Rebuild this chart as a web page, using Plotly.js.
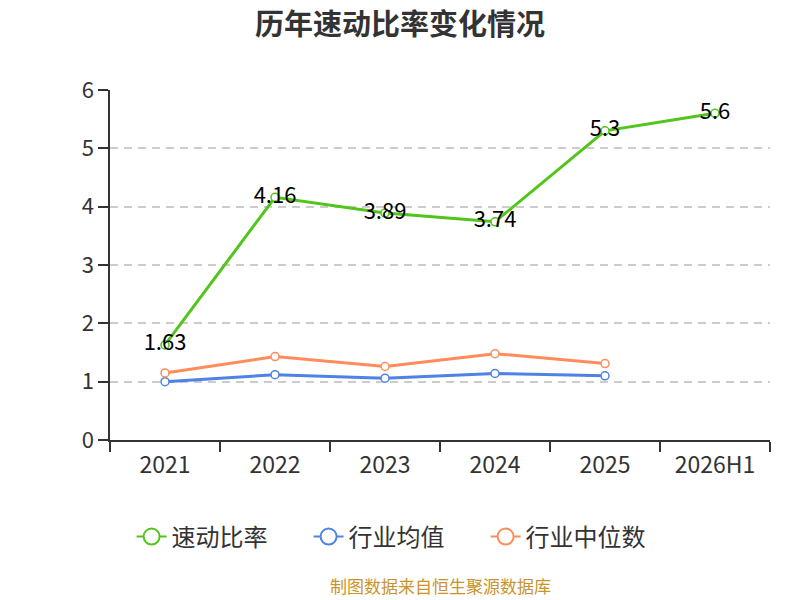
<!DOCTYPE html>
<html>
<head>
<meta charset="utf-8">
<script src="https://cdn.plot.ly/plotly-3.0.1.min.js"></script>
<style>
  body { margin: 0; background: #fff; }
  #chart { width: 800px; height: 600px; }
</style>
</head>
<body>
<div id="chart"></div>
<script>
const CHART = document.getElementById('chart');

const years = ['2021', '2022', '2023', '2024', '2025', '2026H1'];
const quickRatio = [1.63, 4.16, 3.89, 3.74, 5.3, 5.6];
const industryAvg = [1.0, 1.12, 1.06, 1.14, 1.1];
const industryMedian = [1.15, 1.43, 1.26, 1.48, 1.31];

const FONT = 'Noto Sans CJK SC, Noto Sans, sans-serif';

const names = ['速动比率', '行业均值', '行业中位数'];
const colors = ['#52c41a', '#4e82e6', '#ff8c5a'];
const values = [quickRatio, industryAvg, industryMedian];

const traces = [];
values.forEach((y, i) => {
    const t = {
        x: years.slice(0, y.length),
        y: y,
        name: names[i],
        type: 'scatter',
        mode: i === 0 ? 'lines+markers+text' : 'lines+markers',
        line: { color: colors[i], width: 3 },
        marker: { symbol: 'circle', size: 8, color: '#ffffff', line: { color: colors[i], width: 1.5 } },
        showlegend: false,
        cliponaxis: false
    };
    if (i === 0) {
        t.text = y.map(v => String(v));
        t.textposition = 'middle center';
        t.textfont = { family: FONT, size: 22, color: '#000000' };
    }
    traces.push(t);
});

// legend entries with the larger ring symbol
values.forEach((y, i) => {
    traces.push({
        x: [years[0]],
        y: [null],
        name: names[i],
        type: 'scatter',
        mode: 'lines+markers',
        line: { color: colors[i], width: 2 },
        marker: { symbol: 'circle', size: 16, color: '#ffffff', line: { color: colors[i], width: 2 } },
        hoverinfo: 'skip'
    });
});

const layout = {
    width: 800,
    height: 600,
    paper_bgcolor: '#ffffff',
    plot_bgcolor: '#ffffff',
    font: { family: FONT, color: '#333333' },
    margin: { l: 110, r: 30, t: 90, b: 160 },
    title: {
        text: '<b>历年速动比率变化情况</b>',
        font: { family: FONT, size: 29, color: '#333333' },
        x: 0.5, xanchor: 'center', y: 0.958, yanchor: 'middle'
    },
    showlegend: true,
    legend: {
        orientation: 'h',
        x: 0.435, xanchor: 'center',
        y: -0.277, yanchor: 'middle',
        font: { family: FONT, size: 24, color: '#333333' },
        itemsizing: 'trace',
        entrywidth: 132
    },
    xaxis: {
        type: 'category',
        range: [-0.5, 5.5],
        showline: true,
        linecolor: '#333333',
        linewidth: 1.5,
        ticks: 'outside',
        tickson: 'boundaries',
        ticklen: 10,
        tickwidth: 1.5,
        tickcolor: '#333333',
        ticklabelstandoff: 4,
        tickfont: { family: FONT, size: 23, color: '#333333' },
        showgrid: false,
        zeroline: false
    },
    yaxis: {
        range: [0, 6],
        dtick: 1,
        showline: true,
        linecolor: '#333333',
        linewidth: 1.5,
        ticks: 'outside',
        ticklen: 10,
        tickwidth: 1.5,
        tickcolor: '#333333',
        tickfont: { family: FONT, size: 22, color: '#333333' },
        showgrid: true,
        gridcolor: '#cccccc',
        griddash: '8px,6px',
        gridwidth: 1.5,
        zeroline: false
    },
    annotations: [{
        text: '制图数据来自恒生聚源数据库',
        xref: 'paper', yref: 'paper',
        x: 0.5, xanchor: 'center',
        y: -0.417, yanchor: 'middle',
        showarrow: false,
        font: { family: FONT, size: 17, color: '#c8942c' }
    }]
};

Plotly.newPlot(CHART, traces, layout, { displayModeBar: false });
</script>
</body>
</html>
